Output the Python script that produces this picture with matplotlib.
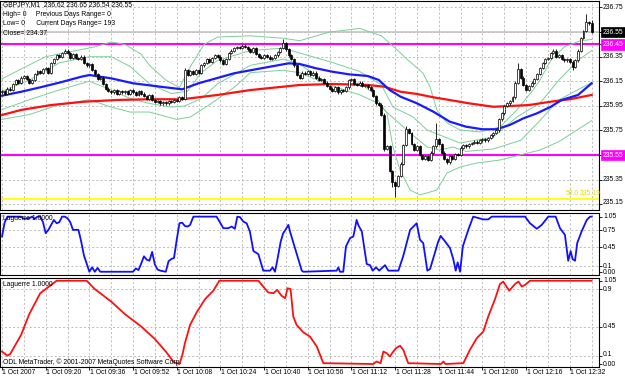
import matplotlib
matplotlib.use("Agg")
import matplotlib.pyplot as plt
import matplotlib.transforms as mtransforms

plt.rcParams['font.family'] = ['Liberation Sans', 'DejaVu Sans']

W, H = 625, 380
BASE = 235.00  # prices below are pips (0.01) above BASE

# ---------------- data ----------------
close_pips = [
    107, 105, 109, 108, 113, 116, 114, 118, 119, 117,      # 0-9
    114, 116, 121, 123, 122, 125, 126, 122, 130, 133,      # 10-19
    136, 135, 138, 140, 138, 134, 137, 134, 133, 135,      # 20-29
    130, 128, 129, 124, 121, 117, 118, 113, 109, 107,      # 30-39
    106, 108, 105, 107, 106, 107, 105, 108, 106, 104,      # 40-49
    107, 105, 103, 101, 104, 100, 98, 99, 97, 98,          # 50-59
    97, 99, 98, 100, 99, 102, 101, 124, 120, 123,          # 60-69
    121, 124, 122, 128, 130, 133, 131, 134, 136, 135,      # 70-79
    132, 129, 133, 138, 140, 142, 143, 142, 144, 143,      # 80-89
    141, 139, 142, 137, 135, 134, 136, 135, 133, 134,      # 90-99
    136, 139, 142, 146, 141, 136, 133, 128, 120, 118,      # 100-109
    122, 121, 123, 120, 122, 118, 116, 117, 114, 111,      # 110-119
    109, 107, 110, 106, 108, 107, 110, 116, 117, 113,      # 120-129
    112, 114, 111, 112, 110, 108, 103, 97, 96, 88,         # 130-139
    60, 62, 42, 33, 30, 38, 48, 63, 76, 73,                # 140-149
    64, 59, 62, 55, 52, 54, 51, 57, 62, 68,                # 150-159
    64, 57, 52, 49, 54, 52, 56, 55, 61, 63,                # 160-169
    62, 64, 65, 66, 65, 67, 68, 67, 69, 71,                # 170-179
    73, 75, 84, 89, 95, 97, 99, 102, 114, 125,             # 180-189
    118, 112, 108, 111, 114, 117, 121, 126, 130, 133,      # 190-199
    134, 138, 140, 135, 136, 133, 132, 133, 131, 127,      # 200-209
    132, 140, 150, 156, 163, 162, 155,                     # 210-216
]
first_open_pips = 106
extra_high = {67: 126, 103: 149, 148: 79, 159: 81, 189: 130, 214: 170, 216: 165}
extra_low = {140: 58, 143: 29, 144: 21, 209: 124, 216: 154}

# (bar, pips) points
ma_blue = [(0, 103.3), (7, 106.5), (14, 110.1), (21, 113.9), (29, 118.7), (32, 120.1),
           (40, 117.4), (48, 113.4), (58, 110.6), (66, 108.5), (72, 113.4), (85, 121.5),
           (97, 126.4), (105, 129.6), (109, 129.1), (115, 125.6), (121, 122.8),
           (127, 120.7), (134, 119.3), (138, 116.1), (142, 107.9), (146, 102.5),
           (152, 97.1), (158, 90.3), (164, 82.2), (170, 78.1), (176, 76.0), (181, 76.0),
           (186, 79.5), (191, 84.9), (196, 89.0), (201, 94.3), (205, 99.8), (211, 103.9),
           (216, 113.4)]
ma_red = [(0, 87.6), (7, 91.7), (18, 95.7), (30, 98.4), (42, 99.8), (54, 100.4),
          (66, 100.4), (79, 103.9), (91, 107.9), (103, 110.6), (109, 112.0), (121, 112.8),
          (134, 112.0), (140, 110.6), (146, 106.5), (152, 104.7), (158, 102.0),
          (164, 99.8), (171, 97.1), (180, 94.3), (186, 94.9), (193, 95.7), (201, 98.4),
          (208, 100.4), (216, 103.9)]

band_uo = [(0, 117), (7, 125), (16, 135), (25, 139), (34, 143), (40, 147), (45, 145),
           (51, 137), (54, 128), (60, 116), (65, 110), (69, 127), (74, 145), (79, 151),
           (91, 152), (103, 150), (109, 148), (120, 155), (131, 158), (139, 152),
           (144, 142), (148.7, 132.3), (154.2, 121.7), (156.8, 110.4), (159.3, 91.7),
           (163, 81.1), (167.8, 75.4), (175.1, 73.8), (182.4, 77.8), (188.6, 91.7),
           (194.5, 107.9), (197.1, 116.1), (201, 132), (206, 143), (212, 148),
           (216, 149)]
band_ui = [(0, 107), (10, 116), (21, 130), (32, 135), (40, 135), (47, 127), (54, 113),
           (62, 105), (68, 107), (73, 122), (79, 132), (91, 140), (103, 142), (109, 138),
           (120, 131), (131, 123), (139, 112), (143.2, 94.1), (150.6, 86), (155.7, 75.4),
           (167.8, 64.8), (179.9, 69.7), (188.6, 86), (197.1, 97.4), (204, 116),
           (211, 132), (216, 140)]
band_li = [(0, 92), (10, 100), (21, 108), (32, 115), (40, 108), (47, 101), (54, 97),
           (62, 94), (67, 95), (73, 101), (79, 113), (91, 128), (103, 133), (109, 129),
           (120, 112), (131, 104), (137, 98), (142.1, 87.6), (149.5, 73), (155.7, 61.6),
           (160.4, 59.1), (165.2, 61.6), (170, 58), (180, 60), (190, 67), (197, 83),
           (204, 100), (216, 114)]
band_lo = [(0, 84), (10, 88), (21, 96), (32, 100), (40, 94), (47, 90), (54, 90),
           (64, 84), (69, 86), (76, 96), (85, 110), (91, 122), (103, 124), (109, 122),
           (120, 112), (131.1, 113.6), (135.9, 105.5), (141, 89.2), (143.2, 61.6),
           (145.8, 42.9), (149.5, 26.6), (153.1, 22.6), (159.3, 26.6), (163, 40.5),
           (167.8, 45.3), (174, 48.6), (182.4, 51), (189.7, 55.1), (197.1, 59.1),
           (204, 66), (216, 83)]

# (bar, value) points of the two Laguerre lines
lag_blue = [(0, 0.64), (1, 0.90), (2, 1.0), (7, 1.0), (8, 0.96), (10, 0.97), (11, 1.0),
            (12, 0.96), (13, 1.0), (14, 1.0), (15, 0.90), (16, 0.70), (17, 0.76),
            (18, 0.85), (19, 0.94), (20, 0.88), (21, 0.90), (22, 1.0), (23, 1.0),
            (24, 0.97), (25, 0.90), (26, 0.76), (28, 0.76), (29, 0.55), (30, 0.30),
            (31, 0.15), (32, 0.0), (33, 0.08), (34, 0.0), (35, 0.07), (36, 0.0),
            (48, 0.0), (49, 0.06), (50, 0.03), (51, 0.15), (52, 0.28), (53, 0.22),
            (54, 0.20), (55, 0.36), (56, 0.13), (57, 0.04), (58, 0.02), (60, 0.0),
            (61, 0.19), (62, 0.23), (63, 0.25), (64, 0.58), (65, 0.88), (66, 0.89),
            (67, 0.83), (68, 0.82), (68.9, 0.85), (70.1, 1.0), (78.6, 1.0), (81.1, 0.79),
            (82.9, 0.79), (84.1, 0.82), (85.3, 0.78), (86.2, 1.0), (87.2, 0.99),
            (88.4, 0.91), (89.6, 0.88), (90.8, 0.73), (92.1, 0.375), (93.9, 0.32),
            (95.7, 0.02), (98.2, 0.02), (99.1, 0.08), (100, 0.0), (100.8, 0.2),
            (102.1, 0.55), (103, 0.70), (103.7, 0.75), (104.9, 0.85), (105.5, 0.73),
            (109.8, 0.02), (110.4, 0.0), (122.6, 0.02), (123.2, 0.08), (123.8, 0.0),
            (125, 0.0), (126, 0.46), (127.5, 0.61), (128.7, 0.64), (129.9, 0.94),
            (130.5, 0.85), (131.8, 0.73), (133.6, 0.14), (134.8, 0.12), (135.8, 0.02),
            (137, 0.08), (138.2, 0.02), (140.3, 0.12), (141.5, 0.02), (145.2, 0.02),
            (147, 0.29), (149.5, 0.76), (151.9, 0.88), (153.1, 0.58), (154.3, 0.52),
            (155.8, 0.02), (156.8, 0.05), (158.6, 0.35), (159.8, 0.55), (160.7, 0.65),
            (162.3, 0.55), (164.1, 0.43), (165.3, 0.23), (166.2, 0.02), (166.9, 0.17),
            (167.8, 0.0), (168.8, 0.46), (170.8, 0.76), (172.6, 1.0), (176.3, 0.95),
            (178.1, 0.95), (179.4, 1.0), (191.6, 1.0), (193.4, 0.88), (195.9, 0.78),
            (197.7, 0.85), (200.1, 1.0), (202.8, 1.0), (204.4, 0.79), (206.2, 0.67),
            (207.4, 0.2), (208.3, 0.375), (209, 0.23), (209.9, 0.2), (210.7, 0.52),
            (212.3, 0.73), (214.2, 0.94), (215.4, 1.0), (216, 1.0)]
lag_red = [(0, 0.15), (2, 0.10), (3, 0.12), (7, 0.35), (10, 0.60), (14, 0.85),
           (18, 0.95), (20, 1.0), (31, 1.0), (34, 0.90), (40, 0.75), (45, 0.60),
           (51, 0.45), (56, 0.30), (60, 0.15), (63, 0.02), (65, 0.0), (66, 0.10),
           (67, 0.25), (68.9, 0.47), (71.3, 0.62), (74.4, 0.78), (77.4, 0.88),
           (79.6, 1.0), (93.9, 1.0), (97.5, 0.86), (99.4, 0.85), (100.8, 0.89),
           (102.4, 0.82), (103.7, 0.79), (104.6, 0.91), (105.7, 0.90), (106.7, 0.57),
           (107.9, 0.47), (110.4, 0.38), (112.8, 0.33), (115.3, 0.21), (117.7, 0.01),
           (136, 0.0), (137.2, 0.03), (138.7, 0.01), (139.7, 0.15), (140.9, 0.13),
           (142.1, 0.09), (143.1, 0.14), (144.3, 0.19), (145.8, 0.22), (147, 0.17),
           (148.8, 0.01), (160.8, 0.0), (161.7, 0.03), (162.4, 0.0), (169, 0.01),
           (171.4, 0.17), (173.9, 0.31), (176.3, 0.39), (178.1, 0.57), (180.6, 0.78),
           (182.4, 0.96), (183.6, 0.99), (185.8, 0.88), (187.9, 0.96), (189.2, 0.99),
           (190.4, 0.93), (191.6, 0.95), (193.4, 1.0), (216, 1.0)]

price_labels = [236.75, 236.35, 236.15, 235.95, 235.75, 235.35, 235.15]
price_grid = [235.15, 235.35, 235.55, 235.75, 235.95, 236.15, 236.35, 236.55, 236.75]
bid_price = 236.55
pivot_levels = [236.45, 235.55]
fibo_level = 235.19
fibo_text = ["50.0", "235.19"]
lag_levels = [0.1, 0.45, 0.75]
lag2_levels = [0.1, 0.45, 0.9]
time_labels = ["1 Oct 2007", "1 Oct 09:20", "1 Oct 09:36", "1 Oct 09:52", "1 Oct 10:08",
               "1 Oct 10:24", "1 Oct 10:40", "1 Oct 10:56", "1 Oct 11:12", "1 Oct 11:28",
               "1 Oct 11:44", "1 Oct 12:00", "1 Oct 12:16", "1 Oct 12:32"]
info_lines = ["GBPJPY,M1  236.62 236.65 236.54 236.55",
              "High= 0     Previous Days Range= 0",
              "Low= 0      Current Days Range= 193",
              "Close= 234.37"]

# ---------------- helpers ----------------
def px(v):
    return BASE + v / 100.0

def split(points, price=True):
    xs = [p[0] for p in points]
    ys = [px(p[1]) if price else p[1] for p in points]
    return xs, ys

fig = plt.figure(figsize=(W / 100, H / 100), dpi=100, facecolor='white')

def px_axes(left, top, right, bottom):
    return fig.add_axes([left / W, 1 - bottom / H, (right - left) / W, (bottom - top) / H])

BAR_PX = 2.73
X0 = 2.0
XL = (-X0 / BAR_PX, (599 - X0) / BAR_PX)
GRID = dict(color='#b4b4b4', lw=0.6, ls=(0, (2.5, 2.5)))
FS = 4.9

ax1 = px_axes(0, 1, 599, 210)
ax2 = px_axes(0, 213, 599, 275)
ax3 = px_axes(0, 278, 599, 367)

n = len(close_pips)
for ax in (ax1, ax2, ax3):
    ax.set_xlim(*XL)
    ax.set_facecolor('white')
    for s in ax.spines.values():
        s.set_color('black')
        s.set_linewidth(0.8)
    ax.tick_params(axis='x', which='both', length=0, labelbottom=False)
    ax.yaxis.tick_right()
    ax.tick_params(axis='y', length=2.2, width=0.6, labelright=False, labelleft=False,
                   color='black')
    for g in range(0, n + 8, 8):
        ax.axvline(g, zorder=0, **GRID)

# ---------- main panel ----------
ax1.set_ylim(236.75 - 202.5 / 123.0, 236.75 + 6.5 / 123.0)
for g in price_grid:
    ax1.axhline(g, zorder=0, **GRID)
ax1.set_yticks(price_labels + [bid_price] + pivot_levels)

ax1.axhline(bid_price, color='#c0c0c0', lw=1.1, zorder=1)
for lv in pivot_levels:
    ax1.axhline(lv, color='#ff00ff', lw=1.5, zorder=1)
ax1.axhline(fibo_level, color='#ffff00', lw=1.3, zorder=1)

green = '#7ccf98'
for band in (band_uo, band_ui, band_li, band_lo):
    bx, by = split(band)
    ax1.plot(bx, by, color=green, lw=0.7, zorder=2)
rx, ry = split(ma_red)
ax1.plot(rx, ry, color='#ff1010', lw=1.6, zorder=3)
bx, by = split(ma_blue)
ax1.plot(bx, by, color='#1a1aff', lw=1.6, zorder=3)

# candles
opens = [first_open_pips] + close_pips[:-1]
for i, (o, c) in enumerate(zip(opens, close_pips)):
    hi = extra_high.get(i, max(o, c) + 1)
    lo = extra_low.get(i, min(o, c) - 1)
    ax1.vlines(i, px(lo), px(hi), color='black', lw=0.6, zorder=4)
    bot = min(o, c)
    h = abs(c - o)
    if h == 0:
        ax1.hlines(px(c), i - 0.38, i + 0.38, color='black', lw=0.7, zorder=5)
    else:
        face = 'white' if c > o else 'black'
        ax1.bar(i, h / 100.0, bottom=px(bot), width=0.72, color=face,
                edgecolor='black', linewidth=0.5, zorder=5)

# right labels main
bt1 = mtransforms.blended_transform_factory(fig.transFigure, ax1.transData)
lx = 603 / W
for v in price_labels:
    yv = v if v > 235.2 else 235.165
    ax1.text(lx, yv, f"{v:.2f}", transform=bt1, fontsize=FS, va='center', ha='left')
ax1.text(lx, bid_price, f"{bid_price:.2f}", transform=bt1, fontsize=FS, va='center',
         ha='left', color='white',
         bbox=dict(boxstyle='square,pad=0.25', fc='black', ec='black', lw=0.5))
for lv in pivot_levels:
    ax1.text(lx, lv, f"{lv:.2f}", transform=bt1, fontsize=FS, va='center', ha='left',
             color='white',
             bbox=dict(boxstyle='square,pad=0.25', fc='#ff00ff', ec='#ff00ff', lw=0.5))
ax1.text(566 / W, fibo_level + 0.045, fibo_text[0], transform=bt1, fontsize=FS,
         color='#e6dc00', va='center', ha='left')
ax1.text(580 / W, fibo_level + 0.045, fibo_text[1], transform=bt1, fontsize=FS,
         color='#e6dc00', va='center', ha='left')

for k, t in enumerate(info_lines):
    fig.text(3 / W, 1 - (4.5 + 9.7 * k) / H, t, fontsize=FS, va='center', ha='left')

# ---------- Laguerre blue ----------
ax2.set_ylim(-0.059, 1.066)
for lv in lag_levels:
    ax2.axhline(lv, zorder=0, **GRID)
ax2.set_yticks(lag_levels + [1.0, 0.0])
lx2, ly2 = split(lag_blue, price=False)
ax2.plot(lx2, ly2, color='#1010ff', lw=1.3, zorder=3)
fig.text(3 / W, 1 - 219 / H, "Laguerre 1.0000", fontsize=FS, va='center', ha='left')
for lab, ypx in [("1.05", 216), ("0.75", 231), ("0.45", 247.5), ("0.1", 266.5),
                 ("0.00", 272)]:
    fig.text(603 / W, 1 - ypx / H, lab, fontsize=FS, va='center', ha='left')

# ---------- Laguerre red ----------
ax3.set_ylim(-0.036, 1.033)
for lv in lag2_levels:
    ax3.axhline(lv, zorder=0, **GRID)
ax3.set_yticks(lag2_levels + [1.0, 0.0])
lx3, ly3 = split(lag_red, price=False)
ax3.plot(lx3, ly3, color='#ff1010', lw=1.3, zorder=3)
fig.text(3 / W, 1 - 285 / H, "Laguerre 1.0000", fontsize=FS, va='center', ha='left')
for lab, ypx in [("1.05", 281), ("0.9", 289.5), ("0.45", 327), ("0.1", 355),
                 ("0.00", 364)]:
    fig.text(603 / W, 1 - ypx / H, lab, fontsize=FS, va='center', ha='left')
fig.text(3 / W, 1 - 362 / H, "ODL MetaTrader, \u00a9 2001-2007 MetaQuotes Software Corp.",
         fontsize=FS, va='center', ha='left')

# ---------- time axis ----------
ax3.set_xticks([16 * k for k in range(len(time_labels))])
ax3.tick_params(axis='x', length=2.5, width=0.6, direction='out', color='black')
for k, t in enumerate(time_labels):
    xpx = X0 + 16 * k * BAR_PX
    fig.text((xpx + 0.5) / W, 1 - 372.5 / H, t, fontsize=FS, va='center', ha='left')

fig.savefig("out.png", dpi=100, facecolor='white')
